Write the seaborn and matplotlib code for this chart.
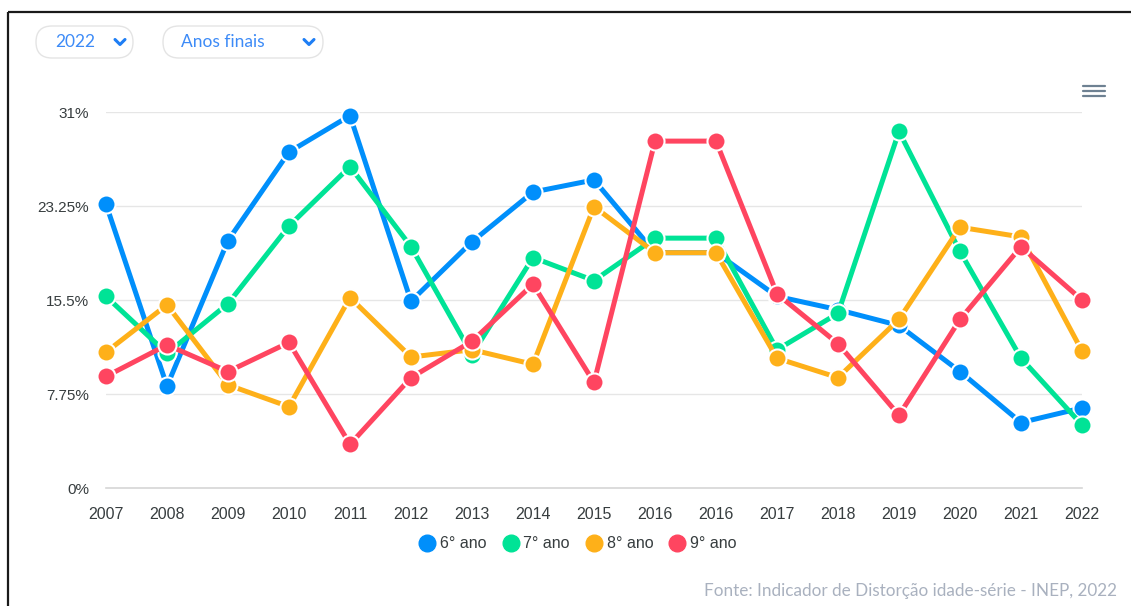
import matplotlib
matplotlib.use('Agg')
import matplotlib.pyplot as plt
from matplotlib.lines import Line2D
from matplotlib.patches import FancyBboxPatch
import pandas as pd
import seaborn as sns

# dados (distorcao idade-serie, %)
anos = ['2007', '2008', '2009', '2010', '2011', '2012', '2013', '2014', '2015',
        '2016', '2016', '2017', '2018', '2019', '2020', '2021', '2022']
ano_6 = [23.4, 8.4, 20.4, 27.7, 30.7, 15.4, 20.3, 24.4, 25.4, 19.4, 19.4, 15.8, 14.7, 13.4, 9.6, 5.4, 6.6]
ano_7 = [15.8, 11.1, 15.2, 21.6, 26.5, 19.9, 11.0, 19.0, 17.1, 20.6, 20.6, 11.4, 14.4, 29.4, 19.5, 10.7, 5.2]
ano_8 = [11.2, 15.1, 8.5, 6.7, 15.7, 10.8, 11.4, 10.2, 23.2, 19.4, 19.4, 10.7, 9.1, 13.9, 21.5, 20.7, 11.3]
ano_9 = [9.2, 11.8, 9.6, 12.0, 3.6, 9.1, 12.1, 16.8, 8.7, 28.6, 28.6, 16.0, 11.9, 6.0, 13.9, 19.9, 15.5]
series = ['6° ano', '7° ano', '8° ano', '9° ano']
cores = ['#008ffb', '#00e396', '#feb019', '#ff4560']
yticks = [0, 7.75, 15.5, 23.25, 31]
ytick_labels = ['0%', '7.75%', '15.5%', '23.25%', '31%']

df = pd.DataFrame({
    'pos': list(range(len(anos))) * 4,
    'valor': ano_6 + ano_7 + ano_8 + ano_9,
    'serie': [s for s in series for _ in anos],
})

sns.set_theme(style='white')
plt.rcParams['font.family'] = ['Liberation Sans', 'DejaVu Sans']

W, H = 1131, 606
fig = plt.figure(figsize=(W / 100, H / 100), dpi=100)

# camada de fundo em pixels (moldura, botoes, menu, fonte)
bg = fig.add_axes([0, 0, 1, 1])
bg.set_xlim(0, W)
bg.set_ylim(H, 0)
bg.axis('off')
bg.plot([8, W], [12, 12], color='#1a1a1a', lw=1.6, solid_capstyle='butt')
bg.plot([8, 8], [12, H], color='#1a1a1a', lw=1.6, solid_capstyle='butt')

azul_ui = '#3d8bf7'
for x0, w, txt, tx, cx in [(36, 97, '2022', 55, 120), (163, 160, 'Anos finais', 181, 309)]:
    bg.add_patch(FancyBboxPatch((x0, 26), w, 32, boxstyle='round,pad=0,rounding_size=16',
                                fc='white', ec='#e4e4e4', lw=1))
    bg.text(tx, 42, txt, color=azul_ui, fontsize=12.5, va='center', ha='left', family=['Lato', 'DejaVu Sans'])
    bg.plot([cx - 5, cx, cx + 5], [39.5, 44.5, 39.5], color='#1e7ef5', lw=2.2,
            solid_capstyle='round', solid_joinstyle='round')

for yy in [86, 91, 96]:
    bg.plot([1083, 1105], [yy, yy], color='#6e8192', lw=1.6)

bg.text(1117, 591, 'Fonte: Indicador de Distorção idade-série - INEP, 2022', color='#a9b1bf',
        fontsize=12.3, ha='right', va='center', family=['Lato', 'DejaVu Sans'])

# grafico principal
ax = fig.add_axes([106 / W, 1 - 488 / H, (1082 - 106) / W, (488 - 112) / H])
ax.set_facecolor('none')
sns.lineplot(data=df, x='pos', y='valor', hue='serie', hue_order=series, palette=cores,
             marker='o', markersize=13, markeredgecolor='white', markeredgewidth=1.5,
             linewidth=3.6, legend=False, ax=ax, zorder=3)
for ln in ax.lines:
    ln.set_clip_on(False)

ax.set_xlim(0, len(anos) - 1)
ax.set_ylim(0, 31)
ax.set_xticks(range(len(anos)))
ax.set_xticklabels(anos)
ax.set_yticks(yticks)
ax.set_yticklabels(ytick_labels)
ax.set_xlabel('')
ax.set_ylabel('')
for y in yticks[1:]:
    ax.axhline(y, color='#e6e6e6', lw=1, zorder=0)
for s in ['top', 'right', 'left']:
    ax.spines[s].set_visible(False)
ax.spines['bottom'].set_color('#d6d6d6')
ax.spines['bottom'].set_linewidth(1.2)
ax.tick_params(axis='x', length=6, width=1, color='#d6d6d6', pad=8, labelsize=11.5, labelcolor='#373d3f')
ax.tick_params(axis='y', length=0, pad=12, labelsize=11, labelcolor='#373d3f')

handles = [Line2D([], [], ls='none', marker='o', markersize=12, color=c) for c in cores]
fig.legend(handles, series, loc='center', bbox_to_anchor=(578 / W, 1 - 544 / H), ncol=4,
           frameon=False, fontsize=11.5, handlelength=1.0, handletextpad=0.3, columnspacing=1.0,
           labelcolor='#373d3f')

fig.savefig('out.png', dpi=100, facecolor='white')
